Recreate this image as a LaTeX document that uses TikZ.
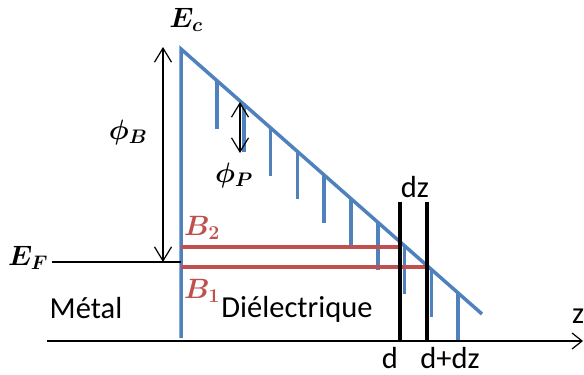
\RequirePackage{fix-cm}
\documentclass[tikz,border=0pt]{standalone}
\usepackage{amsmath,amssymb}
\usepackage{fontspec}
\usepackage{tikz}
\usetikzlibrary{calc,arrows.meta}
\newfontfamily\calibfont{Carlito}
\definecolor{bandblue}{RGB}{79,129,189}
\definecolor{levelred}{RGB}{192,80,77}

\begin{document}
\begin{tikzpicture}[x=1pt,y=-1pt,
  bandline/.style={draw=bandblue,line width=3.5pt},
  redline/.style={draw=levelred,line width=3.5pt},
  cutline/.style={draw=black,line width=3.5pt},
  rule/.style={draw=black,line width=1.2pt},
  gap/.style={rule,{Straight Barb[length=14pt,width=17pt]}-{Straight Barb[length=14pt,width=17pt]}},
  lab/.style={font=\fontsize{28}{32}\selectfont,inner sep=0pt},
  txt/.style={font=\calibfont\fontsize{30.5}{36}\selectfont,inner sep=0pt}]
\useasboundingbox (0,0) rectangle (584,375);
% band edges
\coordinate (ec) at (181,49);
\coordinate (base) at (181,338);
\coordinate (slopeend) at (482,314);
\draw[bandline] (base) -- (ec) -- (slopeend);
\foreach \i in {0,...,9}{
  \coordinate (h\i) at ($(ec)!{(36+26.8*\i)/301}!(slopeend)$);
  \draw[bandline] (h\i) -- ++(0,48);
}
% levels B1, B2
\coordinate (b2l) at (181,247); \coordinate (b2r) at (400,247);
\coordinate (b1l) at (181,267); \coordinate (b1r) at (428,267);
\draw[redline] (b2l) -- (b2r);
\draw[redline] (b1l) -- (b1r);
% slice d .. d+dz
\coordinate (dtop) at (400,202); \coordinate (dbot) at (400,342);
\coordinate (ddtop) at (427,202); \coordinate (ddbot) at (427,342);
\draw[cutline] (dtop) -- (dbot);
\draw[cutline] (ddtop) -- (ddbot);
% axis and Fermi level
\coordinate (zstart) at (47,341); \coordinate (zend) at (583,341);
\draw[rule,-{Straight Barb[length=10pt,width=16pt]}] (zstart) -- (zend);
\coordinate (efl) at (52,262); \coordinate (efr) at (181,262);
\draw[rule] (efl) -- (efr);
\coordinate (phibt) at (163,47); \coordinate (phibb) at (163,262);
\draw[gap] (phibt) -- (phibb);
\coordinate (phipt) at (240,102); \coordinate (phipb) at (240,153);
\draw[gap] (phipt) -- (phipb);
% labels
\node[lab] (lec) at (186,20) {$\boldsymbol{E_c}$};
\node[lab] (lef) at (28,258) {$\boldsymbol{E_F}$};
\node[lab] (lphib) at (128,132) {$\boldsymbol{\phi_B}$};
\node[lab] (lphip) at (234,175) {$\boldsymbol{\phi_P}$};
\node[lab,text=levelred] (lb2) at (202,228) {$\boldsymbol{B_2}$};
\node[lab,text=levelred] (lb1) at (202,291) {$\boldsymbol{B_1}$};
\node[txt,anchor=base] (metal) at (86,318) {Métal};
\node[txt,anchor=base] (diel) at (297,317) {Diélectrique};
\node[txt,anchor=base] (ldz) at (415,197) {dz};
\node[txt,anchor=base] (ld) at (390,368) {d};
\node[txt,anchor=base] (lddz) at (450,368) {d+dz};
\node[txt,anchor=base west] (lz) at (572,323) {z};
\end{tikzpicture}
\end{document}
